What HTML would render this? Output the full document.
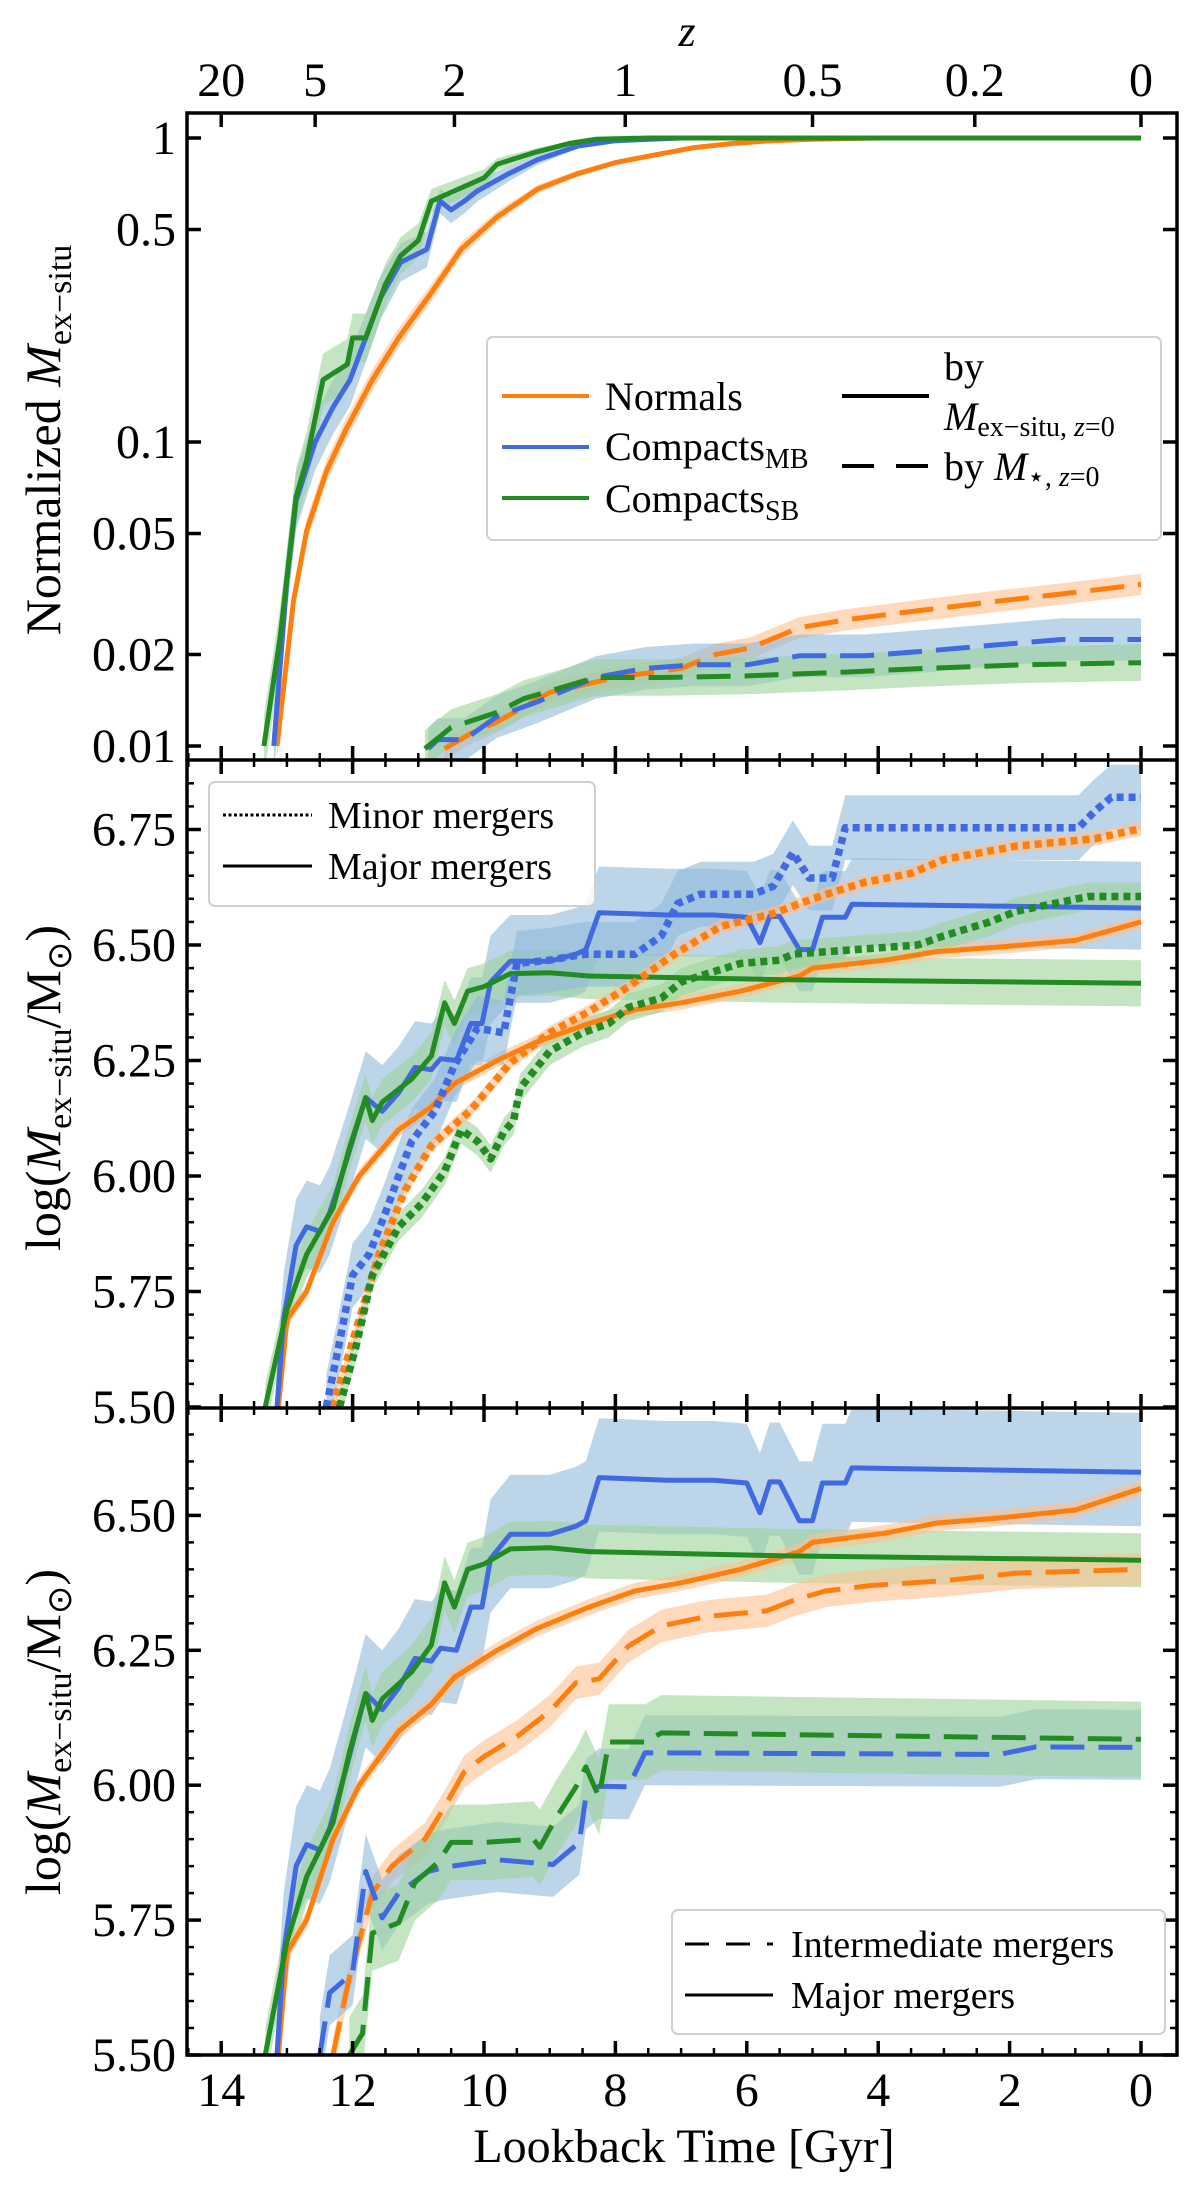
<!DOCTYPE html>
<html><head><meta charset="utf-8"><style>
html,body{margin:0;padding:0;background:#fff}
svg{display:block;font-family:"Liberation Serif",serif}
</style></head><body>
<svg id="fig" xmlns="http://www.w3.org/2000/svg" width="1200" height="2188" viewBox="0 0 1200 2188">
<defs>
<clipPath id="c1"><rect x="187" y="113" width="990" height="647"/></clipPath>
<clipPath id="c2"><rect x="187" y="760" width="990" height="648"/></clipPath>
<clipPath id="c3"><rect x="187" y="1408" width="990" height="647"/></clipPath>
</defs>
<g id="bands1" clip-path="url(#c1)"></g>
<g id="lines1" clip-path="url(#c1)"></g>
<g id="bands2" clip-path="url(#c2)"></g>
<g id="lines2" clip-path="url(#c2)"></g>
<g id="bands3" clip-path="url(#c3)"></g>
<g id="lines3" clip-path="url(#c3)"></g>
<g id="axes"></g>

<text x="687" y="46" font-size="44" font-style="italic" text-anchor="middle">z</text>
<text x="684" y="2162" font-size="48" text-anchor="middle">Lookback Time [Gyr]</text>

<text transform="translate(60,440) rotate(-90)" font-size="50" text-anchor="middle">Normalized <tspan font-style="italic">M</tspan><tspan font-size="34" dy="11">ex−situ</tspan></text>
<text transform="translate(60,1088) rotate(-90)" font-size="50" text-anchor="middle">log(<tspan font-style="italic">M</tspan><tspan font-size="34" dy="11">ex−situ</tspan><tspan dy="-11">/M</tspan><tspan font-size="34" dy="11">⊙</tspan><tspan dy="-11">)</tspan></text>
<text transform="translate(60,1732) rotate(-90)" font-size="50" text-anchor="middle">log(<tspan font-style="italic">M</tspan><tspan font-size="34" dy="11">ex−situ</tspan><tspan dy="-11">/M</tspan><tspan font-size="34" dy="11">⊙</tspan><tspan dy="-11">)</tspan></text>

<g>
<rect x="487" y="337" width="674" height="203" rx="6" fill="#fff" fill-opacity="0.85" stroke="#d0d0d0" stroke-width="2"/>
<line x1="502" y1="396" x2="589" y2="396" stroke="#ff7f0e" stroke-width="4"/>
<text x="605" y="410" font-size="40">Normals</text>
<line x1="502" y1="447" x2="589" y2="447" stroke="#4169e1" stroke-width="4"/>
<text x="605" y="460" font-size="40">Compacts<tspan font-size="28" dy="8">MB</tspan></text>
<line x1="502" y1="498" x2="589" y2="498" stroke="#228b22" stroke-width="4"/>
<text x="605" y="512" font-size="40">Compacts<tspan font-size="28" dy="8">SB</tspan></text>
<line x1="842" y1="396" x2="929" y2="396" stroke="#000" stroke-width="4"/>
<text x="944" y="380" font-size="40">by</text>
<text x="944" y="430" font-size="40"><tspan font-style="italic">M</tspan><tspan font-size="28" dy="6">ex−situ, <tspan font-style="italic">z</tspan>=0</tspan></text>
<line x1="842" y1="466" x2="929" y2="466" stroke="#000" stroke-width="4" stroke-dasharray="32 22"/>
<text x="944" y="480" font-size="40">by <tspan font-style="italic">M</tspan><tspan font-size="28" dy="6">⋆, <tspan font-style="italic">z</tspan>=0</tspan></text>
</g>

<g>
<rect x="209" y="782" width="386" height="124" rx="6" fill="#fff" fill-opacity="0.85" stroke="#d0d0d0" stroke-width="2"/>
<line x1="223" y1="815" x2="312" y2="815" stroke="#000" stroke-width="3" stroke-dasharray="3 2.5"/>
<text x="328" y="828" font-size="38">Minor mergers</text>
<line x1="223" y1="866" x2="312" y2="866" stroke="#000" stroke-width="3"/>
<text x="328" y="879" font-size="38">Major mergers</text>
</g>

<g>
<rect x="672" y="1910" width="493" height="124" rx="6" fill="#fff" fill-opacity="0.85" stroke="#d0d0d0" stroke-width="2"/>
<line x1="685" y1="1944" x2="773" y2="1944" stroke="#000" stroke-width="3" stroke-dasharray="24 17"/>
<text x="791" y="1957" font-size="38">Intermediate mergers</text>
<line x1="685" y1="1995" x2="773" y2="1995" stroke="#000" stroke-width="3"/>
<text x="791" y="2008" font-size="38">Major mergers</text>
</g>
</svg>
<script>
// ---- Panel 1: normalized ex-situ mass (log) ----
const p1NormT = [13.15,12.9,12.7,12.4,12.1,11.7,11.3,10.8,10.35,9.8,9.18,8.6,8.0,7.4,6.8,6.2,5.65,5.0,4.0,2.0,0];
const p1NormV = [0.01,0.03,0.051,0.08,0.11,0.16,0.22,0.31,0.43,0.55,0.68,0.76,0.83,0.88,0.93,0.96,0.98,0.99,1,1,1];
const p1MBT = [13.2,13.0,12.86,12.57,12.3,12.04,11.8,11.57,11.27,10.87,10.67,10.5,10.3,10.1,9.64,9.18,8.58,8.0,7.0,0];
const p1MBV = [0.01,0.035,0.064,0.10,0.13,0.16,0.22,0.30,0.39,0.43,0.62,0.58,0.62,0.67,0.76,0.85,0.94,0.98,1,1];
const p1SBT = [13.35,13.1,12.86,12.7,12.45,12.08,12.0,11.8,11.5,11.27,11.0,10.8,10.45,10.0,9.8,9.2,8.7,8.3,7.5,0];
const p1SBV = [0.01,0.023,0.066,0.087,0.16,0.18,0.22,0.22,0.33,0.41,0.46,0.62,0.67,0.74,0.82,0.90,0.96,0.99,1,1];
const p1NormDT = [10.6,10.2,9.8,9.0,8.0,7.0,6.48,5.95,5.2,4.49,3.32,2.15,1.0,0];
const p1NormDV = [0.0098,0.011,0.012,0.015,0.0168,0.018,0.020,0.021,0.0245,0.026,0.028,0.030,0.032,0.034];
const p1MBDT = [10.85,10.7,10.3,9.8,9.18,8.3,7.55,6.8,6.0,5.2,4.2,3.3,2.2,1.2,0];
const p1MBDV = [0.0098,0.0105,0.0105,0.0125,0.014,0.0168,0.018,0.0185,0.0185,0.0198,0.0198,0.0205,0.0215,0.0224,0.0224];
const p1SBDT = [10.9,10.5,9.8,9.4,8.3,7.3,6.0,4.5,3.3,1.8,0];
const p1SBDV = [0.0098,0.0115,0.0129,0.0143,0.0168,0.0168,0.017,0.0175,0.018,0.0185,0.0188];

// ---- Major mergers (panels 2 & 3, solid) ----
const majNormT = [13.13,13.0,12.7,12.3,11.9,11.6,11.3,10.8,10.45,9.8,9.2,8.4,7.7,7.0,6.1,5.2,5.0,3.9,3.1,2.1,1.0,0.5,0];
const majNormV = [5.5,5.69,5.75,5.90,6.0,6.05,6.10,6.15,6.20,6.25,6.29,6.33,6.36,6.375,6.40,6.433,6.45,6.467,6.486,6.496,6.51,6.53,6.55];
const majMBT = [13.15,13.05,12.86,12.7,12.5,12.35,12.1,11.8,11.55,11.3,11.05,10.8,10.66,10.42,10.2,10.03,9.9,9.6,9.0,8.6,8.45,8.25,7.2,6.5,6.0,5.8,5.65,5.5,5.2,5.0,4.85,4.5,4.4,0];
const majMBV = [5.5,5.69,5.85,5.89,5.88,5.92,6.03,6.17,6.14,6.18,6.235,6.23,6.254,6.25,6.33,6.33,6.42,6.465,6.465,6.48,6.49,6.57,6.565,6.565,6.56,6.505,6.562,6.562,6.49,6.49,6.56,6.56,6.588,6.58];
const majSBT = [13.33,13.0,12.7,12.3,12.05,11.8,11.7,11.55,11.1,10.8,10.6,10.45,10.25,10.0,9.6,9.0,8.4,5.4,0];
const majSBV = [5.5,5.71,5.83,5.93,6.06,6.17,6.12,6.16,6.21,6.26,6.375,6.33,6.40,6.41,6.438,6.44,6.433,6.425,6.417];

// ---- Minor mergers (panel 2, dotted) ----
const minMBT = [12.4,12.2,12.0,11.75,11.5,11.3,11.1,10.75,10.45,10.1,9.7,9.5,9.0,8.6,8.45,7.7,7.3,7.05,6.7,5.9,5.6,5.3,5.05,4.7,4.5,0.95,0.7,0.45,0];
const minMBV = [5.5,5.64,5.785,5.83,5.92,6.0,6.075,6.14,6.24,6.32,6.31,6.46,6.467,6.477,6.48,6.48,6.52,6.59,6.61,6.61,6.627,6.70,6.645,6.645,6.754,6.754,6.79,6.82,6.82];
const minNormT = [12.3,11.9,11.6,11.2,10.8,10.2,9.6,9.0,8.4,7.8,7.1,6.4,5.6,5.0,4.2,3.5,3.0,1.9,0.7,0];
const minNormV = [5.5,5.69,5.83,5.97,6.066,6.143,6.245,6.31,6.356,6.41,6.48,6.54,6.568,6.6,6.636,6.655,6.685,6.714,6.73,6.752];
const minSBT = [12.2,11.95,11.7,11.3,10.95,10.6,10.35,10.1,9.9,9.7,9.55,9.45,9.0,8.5,8.1,7.8,7.3,7.0,6.6,6.1,5.5,5.3,3.4,3.0,2.3,1.9,0.8,0];
const minSBV = [5.5,5.63,5.785,5.89,5.94,6.01,6.1,6.075,6.037,6.095,6.12,6.19,6.27,6.31,6.33,6.365,6.385,6.42,6.438,6.46,6.467,6.48,6.50,6.52,6.55,6.573,6.605,6.605];

// ---- Intermediate mergers (panel 3, dashed) ----
const intNormT = [12.3,12.05,11.7,11.4,10.9,10.6,10.3,10.0,9.5,9.0,8.6,8.25,7.8,7.3,6.6,5.7,5.3,4.8,4.1,3.0,1.9,0];
const intNormV = [5.5,5.643,5.80,5.85,5.90,5.96,6.025,6.053,6.09,6.137,6.19,6.197,6.258,6.295,6.313,6.323,6.342,6.36,6.37,6.379,6.393,6.40];
const intMBT = [12.5,12.35,12.0,11.8,11.55,11.3,10.85,10.6,9.8,8.95,8.55,8.45,8.25,7.8,7.55,2.15,1.6,0];
const intMBV = [5.5,5.615,5.652,5.84,5.754,5.80,5.84,5.848,5.862,5.853,5.894,5.978,5.998,5.997,6.06,6.057,6.071,6.07];
const intSBT = [12.05,11.85,11.7,11.3,11.05,10.7,10.5,10.0,9.25,9.15,8.9,8.6,8.45,8.25,8.1,7.55,7.3,0];
const intSBV = [5.5,5.54,5.726,5.745,5.82,5.857,5.894,5.894,5.90,5.885,5.94,5.997,6.034,5.978,6.08,6.08,6.097,6.085];

// ---- tick labels ----
const xTickVals = [14,12,10,8,6,4,2,0];
const zTickLabels = ["20","5","2","1","0.5","0.2","0"];
const zTickTimes = [14.0,12.57,10.45,7.85,5.0,2.53,0];
const p1TickVals = [1,0.5,0.1,0.05,0.02,0.01];
const p1TickLabels = ["1","0.5","0.1","0.05","0.02","0.01"];
const p23TickVals = [5.5,5.75,6.0,6.25,6.5,6.75];

const NS = "http://www.w3.org/2000/svg";
const X0 = 187, X1 = 1177;
const xS = t => 1141 - 65.7 * t;
const y1S = v => 138 - 304 * Math.log10(v);
const y2S = v => 1407 - 462 * (v - 5.5);
const y3S = v => 2055 - 539.6 * (v - 5.5);
const C = {o:"#ff7f0e", b:"#4169e1", g:"#228b22"};
const F = {o:"#fdbf8f", b:"#8fb9da", g:"#9fd49a"};
const LW = 5;

function mk(tag, attrs, parent){ const e=document.createElementNS(NS,tag); for(const k in attrs) e.setAttribute(k,attrs[k]); parent.appendChild(e); return e; }

function series(ts, vs, yS, color, dash, width, name, lineG){
  const d = ts.map((t,i)=>(i?"L":"M")+xS(t).toFixed(1)+","+yS(vs[i]).toFixed(1)).join("");
  const p = mk("path",{d:d,fill:"none",stroke:color,"stroke-width":width,"stroke-dasharray":dash,"stroke-linejoin":"round"},lineG);
  
  
}
// logMode "sat": band width shrinks as normalized value approaches 1
function band(ts, vs, yS, fill, lo, hi, name, bandG, logMode){
  const w = v => logMode==="sat" ? (1.02 - v) : 1;
  const up = ts.map((t,i)=>xS(t).toFixed(1)+","+(logMode? yS(vs[i]*Math.pow(10,hi*w(vs[i]))) : yS(vs[i]+hi)).toFixed(1));
  const dn = ts.map((t,i)=>xS(t).toFixed(1)+","+(logMode? yS(vs[i]*Math.pow(10,-lo*w(vs[i]))) : yS(vs[i]-lo)).toFixed(1)).reverse();
  const p = mk("polygon",{points:up.concat(dn).join(" "),fill:fill,"fill-opacity":"0.6"},bandG);
  
  
}
const g = id => document.getElementById(id);

// panel 1
band(p1NormT,p1NormV,y1S,F.o,0.04,0.04,"band-normals-mex",g("bands1"),"sat");
band(p1MBT,p1MBV,y1S,F.b,0.1,0.1,"band-mb-mex",g("bands1"),"sat");
band(p1SBT,p1SBV,y1S,F.g,0.1,0.1,"band-sb-mex",g("bands1"),"sat");
band(p1NormDT,p1NormDV,y1S,F.o,0.035,0.035,"band-normals-mstar",g("bands1"),true);
band(p1MBDT,p1MBDV,y1S,F.b,0.07,0.07,"band-mb-mstar",g("bands1"),true);
band(p1SBDT,p1SBDV,y1S,F.g,0.06,0.06,"band-sb-mstar",g("bands1"),true);
series(p1NormT,p1NormV,y1S,C.o,"none",LW,"line-normals-mex",g("lines1"));
series(p1MBT,p1MBV,y1S,C.b,"none",LW,"line-mb-mex",g("lines1"));
series(p1SBT,p1SBV,y1S,C.g,"none",LW,"line-sb-mex",g("lines1"));
series(p1NormDT,p1NormDV,y1S,C.o,"34 14",LW,"line-normals-mstar",g("lines1"));
series(p1MBDT,p1MBDV,y1S,C.b,"34 14",LW,"line-mb-mstar",g("lines1"));
series(p1SBDT,p1SBDV,y1S,C.g,"34 14",LW,"line-sb-mstar",g("lines1"));

// panel 2
band(majMBT,majMBV,y2S,F.b,0.09,0.1,"band-mb-major-2",g("bands2"),false);
band(majSBT,majSBV,y2S,F.g,0.05,0.05,"band-sb-major-2",g("bands2"),false);
band(majNormT,majNormV,y2S,F.o,0.015,0.015,"band-normals-major-2",g("bands2"),false);
band(minMBT,minMBV,y2S,F.b,0.07,0.07,"band-mb-minor",g("bands2"),false);
band(minSBT,minSBV,y2S,F.g,0.03,0.03,"band-sb-minor",g("bands2"),false);
band(minNormT,minNormV,y2S,F.o,0.015,0.015,"band-normals-minor",g("bands2"),false);
series(majNormT,majNormV,y2S,C.o,"none",LW,"line-normals-major-2",g("lines2"));
series(majMBT,majMBV,y2S,C.b,"none",LW,"line-mb-major-2",g("lines2"));
series(majSBT,majSBV,y2S,C.g,"none",LW,"line-sb-major-2",g("lines2"));
series(minNormT,minNormV,y2S,C.o,"7 5",7.5,"line-normals-minor",g("lines2"));
series(minMBT,minMBV,y2S,C.b,"7 5",7.5,"line-mb-minor",g("lines2"));
series(minSBT,minSBV,y2S,C.g,"7 5",7.5,"line-sb-minor",g("lines2"));

// panel 3
band(majMBT,majMBV,y3S,F.b,0.1,0.11,"band-mb-major-3",g("bands3"),false);
band(majSBT,majSBV,y3S,F.g,0.05,0.05,"band-sb-major-3",g("bands3"),false);
band(majNormT,majNormV,y3S,F.o,0.015,0.015,"band-normals-major-3",g("bands3"),false);
band(intNormT,intNormV,y3S,F.o,0.03,0.03,"band-normals-intermediate",g("bands3"),false);
band(intMBT,intMBV,y3S,F.b,0.06,0.07,"band-mb-intermediate",g("bands3"),false);
band(intSBT,intSBV,y3S,F.g,0.07,0.07,"band-sb-intermediate",g("bands3"),false);
series(majNormT,majNormV,y3S,C.o,"none",LW,"line-normals-major-3",g("lines3"));
series(majMBT,majMBV,y3S,C.b,"none",LW,"line-mb-major-3",g("lines3"));
series(majSBT,majSBV,y3S,C.g,"none",LW,"line-sb-major-3",g("lines3"));
series(intNormT,intNormV,y3S,C.o,"34 14",LW,"line-normals-intermediate",g("lines3"));
series(intMBT,intMBV,y3S,C.b,"34 14",LW,"line-mb-intermediate",g("lines3"));
series(intSBT,intSBV,y3S,C.g,"34 14",LW,"line-sb-intermediate",g("lines3"));

// axes
const ax = g("axes");
const tops=[113,760,1408], bots=[760,1408,2055];
mk("rect",{x:X0,y:113,width:X1-X0,height:2055-113,fill:"none",stroke:"#000","stroke-width":3.5},ax);
mk("line",{x1:X0,y1:760,x2:X1,y2:760,stroke:"#000","stroke-width":3.5},ax);
mk("line",{x1:X0,y1:1408,x2:X1,y2:1408,stroke:"#000","stroke-width":3.5},ax);
function tk(x1,y1,x2,y2,w){ mk("line",{x1:x1,y1:y1,x2:x2,y2:y2,stroke:"#000","stroke-width":w||2.5},ax); }
for(let p=0;p<3;p++){
  for(let t=0;t<=14.5;t+=0.5){
    const x=xS(t), major=(t%2===0), L=major?14:7;
    tk(x,bots[p],x,bots[p]-L, major?3.5:2.5);
    if(p>0) tk(x,tops[p],x,tops[p]+L, major?3.5:2.5);
  }
}
zTickTimes.forEach((t,i)=>{
  tk(xS(t),113,xS(t),127,3.5);
  const e=mk("text",{x:xS(t),y:96,"font-size":48,"text-anchor":"middle"},ax); e.textContent=zTickLabels[i];
  
  
});
xTickVals.forEach(t=>{
  const e=mk("text",{x:xS(t),y:2106,"font-size":48,"text-anchor":"middle"},ax); e.textContent=String(t);
  
  
});
p1TickVals.forEach((v,i)=>{
  const y=y1S(v);
  tk(X0,y,X0+14,y,3.5); tk(X1,y,X1-14,y,3.5);
  const e=mk("text",{x:176,y:y+16,"font-size":48,"text-anchor":"end"},ax); e.textContent=p1TickLabels[i];
  
  
});
[[y2S,6.9,"panel2"],[y3S,6.7,"panel3"]].forEach(([yS,top,nm])=>{
  for(let v=5.5;v<=top+1e-6;v+=0.05){
    const vv=Math.round(v*100)/100, y=yS(vv), major=Math.abs(vv*4-Math.round(vv*4))<1e-6, L=major?14:7;
    tk(X0,y,X0+L,y,major?3.5:2.5); tk(X1,y,X1-L,y,major?3.5:2.5);
  }
  p23TickVals.forEach(v=>{
    if(v>top) return;
    const e=mk("text",{x:176,y:yS(v)+16,"font-size":48,"text-anchor":"end"},ax); e.textContent=v.toFixed(2);
    
    
  });
});
</script>
</body></html>
